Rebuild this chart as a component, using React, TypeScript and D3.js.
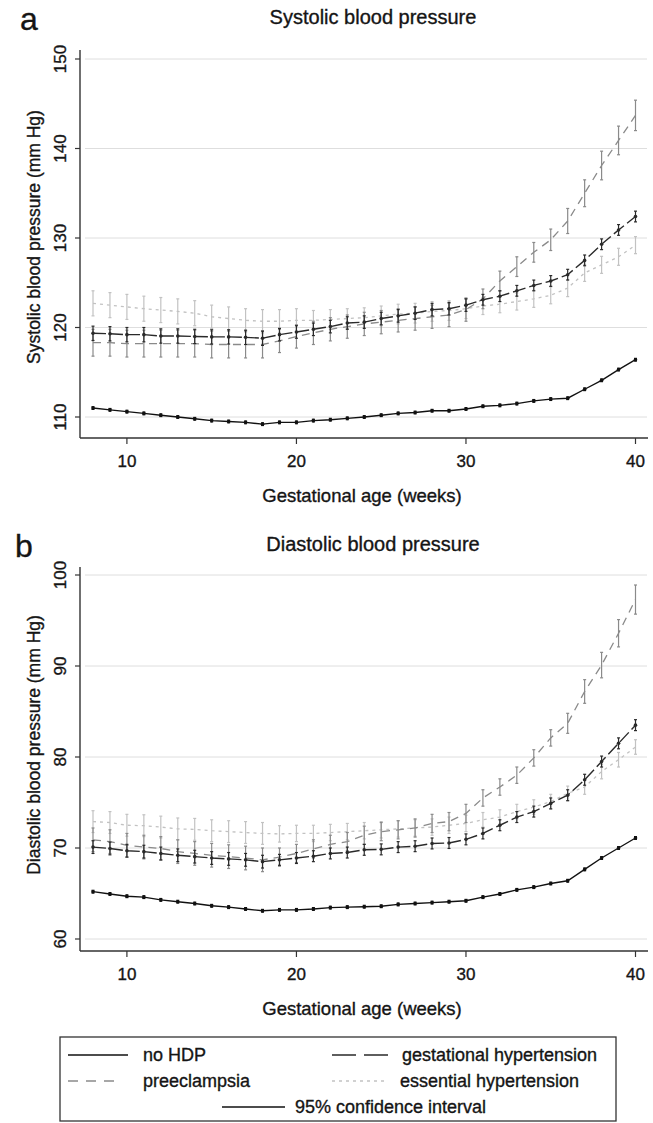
import React from "react";
import * as d3 from "d3";

// Gestational weeks 8..40
const weeks = [8,9,10,11,12,13,14,15,16,17,18,19,20,21,22,23,24,25,26,27,28,29,30,31,32,33,34,35,36,37,38,39,40];

// Systolic means (mm Hg)
const sysNoHDP = [111.0,110.8,110.6,110.4,110.2,110.0,109.8,109.6,109.5,109.4,109.2,109.4,109.4,109.6,109.7,109.85,110.0,110.2,110.4,110.5,110.7,110.7,110.9,111.2,111.3,111.5,111.8,112.0,112.1,113.1,114.1,115.3,116.4];
const sysGestHyp = [119.35,119.3,119.2,119.2,119.05,119.05,119.0,118.95,118.95,118.9,118.8,119.2,119.5,119.8,120.1,120.5,120.6,121.0,121.3,121.6,122.0,122.1,122.5,123.1,123.5,124.1,124.7,125.2,125.9,127.5,129.3,130.9,132.4];
const sysPreec = [118.3,118.3,118.2,118.2,118.2,118.2,118.2,118.1,118.1,118.1,118.1,118.5,119.0,119.4,119.8,120.1,120.4,120.6,120.8,121.0,121.2,121.4,122.0,123.2,125.2,126.8,128.4,129.8,131.9,135.0,138.1,140.9,143.7];
const sysEss = [122.7,122.5,122.3,122.1,121.95,121.8,121.6,121.2,121.0,120.8,120.7,120.7,120.8,120.8,120.9,121.0,121.1,121.3,121.5,121.6,121.8,121.9,122.1,122.4,122.6,122.9,123.2,123.6,124.4,126.1,127.0,127.9,129.2];

// Systolic 95% CI half-widths
const sysNoHDPci = [0.15,0.15,0.15,0.15,0.15,0.15,0.15,0.15,0.15,0.15,0.15,0.15,0.15,0.15,0.15,0.15,0.15,0.15,0.15,0.15,0.15,0.15,0.15,0.15,0.15,0.15,0.15,0.15,0.15,0.15,0.15,0.15,0.15];
const sysGestHypCi = [0.8,0.8,0.8,0.8,0.8,0.8,0.8,0.8,0.8,0.8,0.8,0.7,0.7,0.7,0.7,0.7,0.7,0.7,0.7,0.7,0.7,0.7,0.7,0.6,0.6,0.6,0.6,0.6,0.6,0.6,0.6,0.6,0.6];
const sysPreecCi = [1.5,1.5,1.5,1.5,1.5,1.5,1.5,1.5,1.5,1.5,1.5,1.3,1.3,1.3,1.3,1.3,1.3,1.3,1.3,1.3,1.3,1.3,1.3,1.1,1.1,1.1,1.1,1.2,1.4,1.5,1.6,1.6,1.7];
const sysEssCi = [1.4,1.4,1.4,1.4,1.4,1.4,1.4,1.3,1.3,1.3,1.3,1.3,1.3,1.1,1.1,1.1,1.1,1.1,1.1,1.1,1.1,1.1,1.1,0.95,0.95,0.95,0.95,0.95,0.95,0.95,0.95,0.95,0.95];

// Diastolic means (mm Hg)
const diaNoHDP = [65.2,64.95,64.7,64.6,64.3,64.1,63.9,63.65,63.5,63.3,63.1,63.2,63.2,63.3,63.45,63.5,63.55,63.6,63.8,63.9,64.0,64.1,64.2,64.6,64.95,65.4,65.7,66.1,66.4,67.65,68.9,70.0,71.1];
const diaGestHyp = [70.1,69.95,69.7,69.6,69.4,69.2,69.05,68.9,68.8,68.7,68.5,68.7,68.9,69.1,69.4,69.5,69.8,69.85,70.1,70.2,70.5,70.55,70.95,71.6,72.5,73.4,74.0,74.9,75.8,77.5,79.5,81.5,83.5];
const diaPreec = [70.9,70.7,70.3,70.1,69.95,69.6,69.4,69.2,69.05,68.9,68.7,69.0,69.4,69.9,70.4,70.7,71.4,71.8,72.0,72.2,72.7,72.9,73.8,75.5,76.7,78.0,79.9,82.1,83.7,87.2,90.1,93.6,97.3];
const diaEss = [72.9,72.8,72.5,72.45,72.3,72.1,72.05,71.9,71.8,71.7,71.6,71.55,71.6,71.6,71.7,71.8,71.9,72.0,72.1,72.2,72.3,72.5,72.7,73.1,73.4,74.0,74.5,75.1,76.0,76.7,78.4,79.7,81.1];

// Diastolic 95% CI half-widths
const diaNoHDPci = [0.15,0.15,0.15,0.15,0.15,0.15,0.15,0.15,0.15,0.15,0.15,0.15,0.15,0.15,0.15,0.15,0.15,0.15,0.15,0.15,0.15,0.15,0.15,0.15,0.15,0.15,0.15,0.15,0.15,0.15,0.15,0.15,0.15];
const diaGestHypCi = [0.7,0.7,0.7,0.7,0.7,0.7,0.7,0.7,0.7,0.7,0.7,0.6,0.6,0.6,0.6,0.6,0.6,0.6,0.6,0.6,0.6,0.6,0.6,0.6,0.6,0.6,0.6,0.6,0.6,0.6,0.6,0.6,0.6];
const diaPreecCi = [1.3,1.3,1.3,1.3,1.3,1.3,1.3,1.3,1.3,1.3,1.3,1.0,1.0,1.0,1.0,1.0,1.0,1.0,1.0,1.0,1.0,1.0,1.0,0.9,0.9,0.9,0.9,0.9,1.1,1.3,1.4,1.5,1.6];
const diaEssCi = [1.2,1.2,1.2,1.2,1.2,1.2,1.2,1.2,1.2,1.2,1.2,0.9,0.9,0.9,0.9,0.9,0.9,0.9,0.9,0.9,0.9,0.9,0.9,0.8,0.8,0.8,0.8,0.8,0.8,0.8,0.8,0.8,0.8];

const xTicks = [10, 20, 30, 40];
const sysTicks = [110, 120, 130, 140, 150];
const diaTicks = [60, 70, 80, 90, 100];

const groupLabels = ["no HDP", "preeclampsia", "gestational hypertension", "essential hypertension"];

const FONT = "'Liberation Sans', Arial, Helvetica, sans-serif";
const TXT = { fontFamily: FONT, fill: "#151515", stroke: "#151515", strokeWidth: 0.35 };

type SeriesStyle = { color: string; dash: string; width: number; markers: boolean };
const styles: Record<string, SeriesStyle> = {
  noHDP: { color: "#111", dash: "", width: 1.4, markers: true },
  gestHyp: { color: "#2a2a2a", dash: "13,4", width: 1.4, markers: true },
  preec: { color: "#8a8a8a", dash: "8,6", width: 1.3, markers: false },
  ess: { color: "#c2c2c2", dash: "3,4", width: 1.3, markers: false },
};

type Series = { key: string; mean: number[]; ci: number[] };

function Panel(props: {
  letter: string;
  title: string;
  yLabel: string;
  yTicks: number[];
  yDomain: [number, number];
  yRange: [number, number];
  axisTop: number;
  axisBottom: number;
  titleY: number;
  letterX: number;
  letterY: number;
  yLabelCenter: number;
  series: Series[];
}) {
  const { letter, title, yLabel, yTicks, yDomain, yRange, axisTop, axisBottom, titleY, letterX, letterY, yLabelCenter, series } = props;
  const x = d3.scaleLinear().domain([8, 40]).range([93, 635.5]);
  const y = d3.scaleLinear().domain(yDomain).range(yRange);
  const axisLeft = 80;
  const axisRight = 648;
  const line = d3
    .line<number>()
    .x((_, i) => x(weeks[i]))
    .y((d) => y(d));

  return (
    <g>
      <text x={letterX} y={letterY} fontSize={32} {...TXT}>{letter}</text>
      <text x={373} y={titleY} textAnchor="middle" fontSize={20} {...TXT}>{title}</text>
      {yTicks.map((t) => (
        <line key={"g" + t} x1={85} x2={647} y1={y(t)} y2={y(t)} stroke="#dedede" strokeWidth={1} />
      ))}
      {series.map((s) => {
        const st = styles[s.key];
        return (
          <g key={s.key}>
            {s.mean.map((m, i) => {
              const cx = x(weeks[i]);
              const y1 = y(m - s.ci[i]);
              const y2 = y(m + s.ci[i]);
              return (
                <g key={i} stroke={st.color} strokeWidth={1.2}>
                  <line x1={cx} x2={cx} y1={y1} y2={y2} />
                  <line x1={cx - 1.5} x2={cx + 1.5} y1={y1} y2={y1} />
                  <line x1={cx - 1.5} x2={cx + 1.5} y1={y2} y2={y2} />
                </g>
              );
            })}
            <path d={line(s.mean) || ""} fill="none" stroke={st.color} strokeWidth={st.width} strokeDasharray={st.dash || undefined} />
            {st.markers &&
              s.mean.map((m, i) => <circle key={"m" + i} cx={x(weeks[i])} cy={y(m)} r={1.8} fill={st.color} />)}
          </g>
        );
      })}
      <line x1={axisLeft} x2={axisLeft} y1={axisTop} y2={axisBottom} stroke="#333" strokeWidth={1.4} />
      <line x1={axisLeft} x2={axisRight} y1={axisBottom} y2={axisBottom} stroke="#333" strokeWidth={1.4} />
      {yTicks.map((t) => (
        <g key={"yt" + t}>
          <line x1={axisLeft - 5} x2={axisLeft} y1={y(t)} y2={y(t)} stroke="#333" strokeWidth={1.2} />
          <text transform={`translate(66,${y(t)}) rotate(-90)`} textAnchor="middle" fontSize={17} {...TXT}>{t}</text>
        </g>
      ))}
      {xTicks.map((t) => (
        <g key={"xt" + t}>
          <line x1={x(t)} x2={x(t)} y1={axisBottom} y2={axisBottom + 6} stroke="#333" strokeWidth={1.2} />
          <text x={x(t)} y={axisBottom + 29} textAnchor="middle" fontSize={17} {...TXT}>{t}</text>
        </g>
      ))}
      <text transform={`translate(40,${yLabelCenter}) rotate(-90)`} textAnchor="middle" fontSize={17.5} {...TXT}>{yLabel}</text>
      <text x={362} y={axisBottom + 64} textAnchor="middle" fontSize={18.5} {...TXT}>Gestational age (weeks)</text>
    </g>
  );
}

function Legend() {
  const r1 = 1061, r2 = 1087, r3 = 1113;
  const fs = 18;
  return (
    <g>
      <rect x={60} y={1037} width={556} height={84} fill="none" stroke="#333" strokeWidth={1.3} />
      <line x1={68} x2={128} y1={r1 - 6} y2={r1 - 6} stroke={styles.noHDP.color} strokeWidth={1.4} />
      <text x={143} y={r1} fontSize={fs} {...TXT}>{groupLabels[0]}</text>
      <line x1={332} x2={392} y1={r1 - 6} y2={r1 - 6} stroke={styles.gestHyp.color} strokeWidth={1.4} strokeDasharray="24,8" />
      <text x={402} y={r1} fontSize={fs} {...TXT}>{groupLabels[2]}</text>
      <line x1={68} x2={120} y1={r2 - 6} y2={r2 - 6} stroke={styles.preec.color} strokeWidth={1.3} strokeDasharray="10,8" />
      <text x={143} y={r2} fontSize={fs} {...TXT}>{groupLabels[1]}</text>
      <line x1={332} x2={387} y1={r2 - 6} y2={r2 - 6} stroke={styles.ess.color} strokeWidth={1.3} strokeDasharray="3,4" />
      <text x={400} y={r2} fontSize={fs} {...TXT}>{groupLabels[3]}</text>
      <line x1={222} x2={285} y1={r3 - 6} y2={r3 - 6} stroke="#111" strokeWidth={1.4} />
      <text x={295} y={r3} fontSize={fs} {...TXT}>95% confidence interval</text>
    </g>
  );
}

export default function App() {
  const sysSeries: Series[] = [
    { key: "ess", mean: sysEss, ci: sysEssCi },
    { key: "preec", mean: sysPreec, ci: sysPreecCi },
    { key: "gestHyp", mean: sysGestHyp, ci: sysGestHypCi },
    { key: "noHDP", mean: sysNoHDP, ci: sysNoHDPci },
  ];
  const diaSeries: Series[] = [
    { key: "ess", mean: diaEss, ci: diaEssCi },
    { key: "preec", mean: diaPreec, ci: diaPreecCi },
    { key: "gestHyp", mean: diaGestHyp, ci: diaGestHypCi },
    { key: "noHDP", mean: diaNoHDP, ci: diaNoHDPci },
  ];
  return (
    <svg width={653} height={1123} style={{ position: "absolute", left: 0, top: 0, background: "#fff" }}>
      <rect x={0} y={0} width={653} height={1123} fill="#fff" />
      <Panel
        letter="a"
        title="Systolic blood pressure"
        yLabel="Systolic blood pressure (mm Hg)"
        yTicks={sysTicks}
        yDomain={[110, 150]}
        yRange={[417, 59]}
        axisTop={50}
        axisBottom={438}
        titleY={24}
        letterX={20}
        letterY={30}
        yLabelCenter={237}
        series={sysSeries}
      />
      <Panel
        letter="b"
        title="Diastolic blood pressure"
        yLabel="Diastolic blood pressure (mm Hg)"
        yTicks={diaTicks}
        yDomain={[60, 100]}
        yRange={[939, 575]}
        axisTop={567}
        axisBottom={951}
        titleY={551}
        letterX={15}
        letterY={557}
        yLabelCenter={745}
        series={diaSeries}
      />
      <Legend />
    </svg>
  );
}
